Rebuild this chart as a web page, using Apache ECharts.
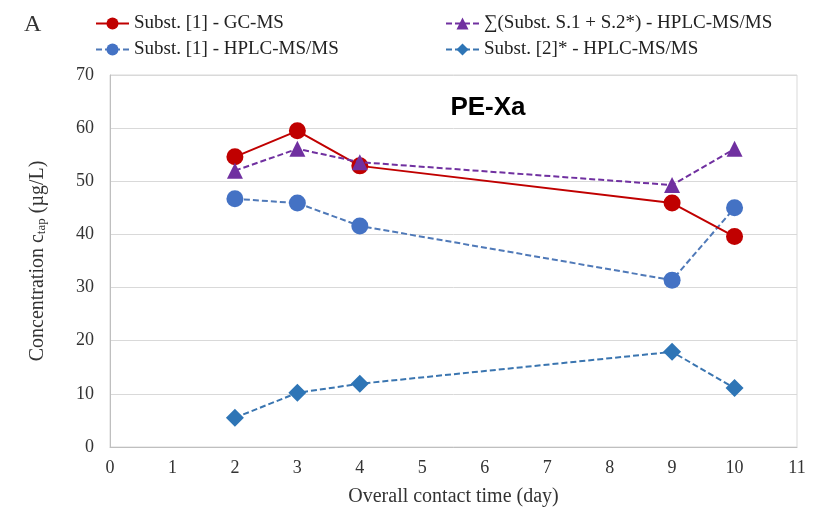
<!DOCTYPE html>
<html>
<head>
<meta charset="utf-8">
<script src="https://cdn.jsdelivr.net/npm/echarts@6/dist/echarts.min.js"></script>
<style>
  html, body { margin: 0; padding: 0; background: #fff; }
</style>
</head>
<body>
<!-- PE-Xa: concentration over contact time -->
<div id="chart_ref" style="width: 818px; height: 516px"></div>
<script>
const days = [2, 3, 4, 9, 10]
const gcms = [54.6, 59.5, 52.9, 45.9, 39.6]
const sumS12 = [52.0, 56.1, 53.6, 49.3, 56.1]
const hplcS1 = [46.7, 45.9, 41.6, 31.4, 45.0]
const hplcS2 = [5.5, 10.2, 11.9, 17.9, 11.1]

const names = [
  'Subst. [1] - GC-MS',
  '∑(Subst. S.1 + S.2*) - HPLC-MS/MS',
  'Subst. [1] - HPLC-MS/MS',
  'Subst. [2]* - HPLC-MS/MS'
]

const toPairs = vals => days.map((d, i) => [d, vals[i]])

const chartInstance = echarts.init(document.getElementById('chart_ref'))

const serif = 'Liberation Serif, Times New Roman, serif'
const legendText = {
  fontFamily: serif,
  fontSize: 19,
  color: '#222'
}

const option = {
  animation: false,
  title: {
    text: 'PE-Xa',
    left: 483,
    top: 90,
    textAlign: 'center',
    textStyle: {
      fontFamily: 'Liberation Sans, Arial, sans-serif',
      fontWeight: 'bold',
      fontSize: 26,
      color: '#000'
    }
  },
  graphic: [
    {
      type: 'text',
      left: 24,
      top: 13,
      style: { text: 'A', font: '24px ' + serif, fill: '#333' }
    }
  ],
  legend: [
    { data: [names[0]], left: 90, top: 9, itemWidth: 33, itemHeight: 15, itemGap: 2, textStyle: legendText },
    { data: [names[1]], left: 440, top: 9, itemWidth: 33, itemHeight: 15, itemGap: 2, textStyle: legendText },
    { data: [names[2]], left: 90, top: 35, itemWidth: 33, itemHeight: 15, itemGap: 2, textStyle: legendText },
    { data: [names[3]], left: 440, top: 35, itemWidth: 33, itemHeight: 15, itemGap: 2, textStyle: legendText }
  ],
  grid: {
    left: 110,
    right: 21,
    top: 75,
    bottom: 69,
    show: true,
    borderColor: '#d9d9d9',
    borderWidth: 1
  },
  xAxis: {
    type: 'value',
    min: 0,
    max: 11,
    interval: 1,
    name: 'Overall contact time (day)',
    nameLocation: 'middle',
    nameGap: 40,
    nameTextStyle: { fontFamily: serif, fontSize: 20, color: '#333' },
    axisLine: { lineStyle: { color: '#bfbfbf' } },
    axisTick: { show: false },
    axisLabel: { fontFamily: serif, fontSize: 18, color: '#333', margin: 12 },
    splitLine: { show: false }
  },
  yAxis: {
    type: 'value',
    min: 0,
    max: 70,
    interval: 10,
    name: 'Concentration c{sub|tap} (µg/L)',
    nameLocation: 'middle',
    nameGap: 62,
    nameTextStyle: {
      fontFamily: serif,
      fontSize: 20,
      color: '#333',
      rich: {
        sub: { fontFamily: serif, fontSize: 13, color: '#333', padding: [8, 0, 0, 0] }
      }
    },
    axisLine: { show: true, lineStyle: { color: '#bfbfbf' } },
    axisTick: { show: false },
    axisLabel: { fontFamily: serif, fontSize: 18, color: '#333', margin: 16 },
    splitLine: { lineStyle: { color: '#d9d9d9' } }
  },
  series: [
    {
      name: names[0],
      type: 'line',
      data: toPairs(gcms),
      symbol: 'circle',
      symbolSize: 17,
      z: 4,
      itemStyle: { color: '#c00000' },
      lineStyle: { color: '#c00000', width: 2 }
    },
    {
      name: names[1],
      type: 'line',
      data: toPairs(sumS12),
      symbol: 'triangle',
      symbolSize: 16,
      z: 5,
      itemStyle: { color: '#7030a0' },
      lineStyle: { color: '#7030a0', width: 2, type: [6, 3] }
    },
    {
      name: names[2],
      type: 'line',
      data: toPairs(hplcS1),
      symbol: 'circle',
      symbolSize: 17,
      z: 3,
      itemStyle: { color: '#4472c4' },
      lineStyle: { color: '#4f79b8', width: 2, type: [6, 3] }
    },
    {
      name: names[3],
      type: 'line',
      data: toPairs(hplcS2),
      symbol: 'diamond',
      symbolSize: 18,
      z: 3,
      itemStyle: { color: '#2e75b6' },
      lineStyle: { color: '#3a75b0', width: 2, type: [6, 3] }
    }
  ]
}

chartInstance.setOption(option)
</script>
</body>
</html>
